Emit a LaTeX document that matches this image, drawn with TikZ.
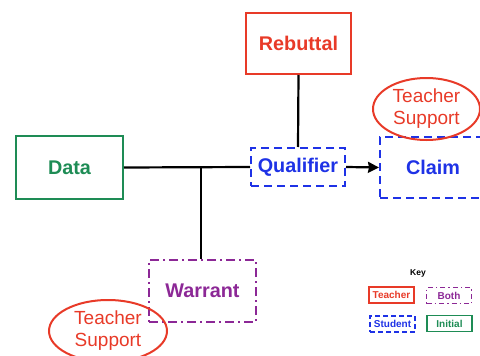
\documentclass[tikz,border=0pt]{standalone}
\usepackage{fontspec}
\setmainfont{Liberation Sans}
\usetikzlibrary{shapes.geometric, arrows, arrows.meta}
\definecolor{tred}{RGB}{232,58,40}
\definecolor{sblue}{RGB}{30,50,230}
\definecolor{bpurple}{RGB}{140,40,150}
\definecolor{igreen}{RGB}{30,140,85}
\tikzstyle{teacher} = [
    rectangle,
    line width=2pt,
    draw=tred,
    text=tred,
    font=\bfseries\fontsize{19.8}{22}\selectfont
]
\tikzstyle{student} = [
    rectangle,
    line width=2pt,
    dash pattern=on 8pt off 5pt,
    draw=sblue,
    text=sblue,
    font=\bfseries\fontsize{19.8}{22}\selectfont
]
\tikzstyle{both} = [
    rectangle,
    line width=2pt,
    dash pattern=on 9pt off 4pt on 2pt off 4pt,
    draw=bpurple,
    text=bpurple,
    font=\bfseries\fontsize{19.8}{22}\selectfont
]
\tikzstyle{initial} = [
    rectangle,
    line width=2pt,
    draw=igreen,
    text=igreen,
    font=\bfseries\fontsize{19.8}{22}\selectfont
]
\tikzstyle{support} = [
    ellipse,
    line width=2pt,
    draw=tred,
    text=tred,
    align=center,
    inner sep=0pt,
    font=\fontsize{19}{22}\selectfont
]
\tikzstyle{keybox} = [
    minimum width=45pt,
    minimum height=16pt,
    inner sep=1pt,
    line width=1.4pt,
    font=\bfseries\fontsize{10}{12}\selectfont
]
\tikzstyle{link} = [line width=2.2pt, black]
\tikzstyle{arrow} = [line width=2.2pt,-{Stealth[length=11pt,width=11pt,inset=1pt]}]

\begin{document}
\begin{tikzpicture}[x=1pt, y=-1pt]
\useasboundingbox (0,0) rectangle (480,356);

\node (rebuttal) [teacher, minimum width=105pt, minimum height=61pt] at (298.5,43.5) {Rebuttal};

\node (data) [initial, minimum width=107pt, minimum height=63pt] at (69.5,167.5) {Data};

\node (qualifier) [student, minimum width=94pt, minimum height=38pt] at (298,167) {Qualifier};

\node (claim) [student, minimum width=106pt, minimum height=61pt] at (433,167.5) {Claim};

\node (warrant) [both, minimum width=107pt, minimum height=62pt] at (202.5,291) {Warrant};

\node (support1) [support, minimum width=107pt, minimum height=62pt] at (426.5,109) {Teacher\\Support};

\node (support2) [support, minimum width=118pt, minimum height=62pt] at (108,331) {Teacher\\Support};

\coordinate (join) at (201,167.5);

\draw [link] (data.east) -- (qualifier.west);
\draw [link] (join) -- (warrant.north -| join);
\draw [link] (rebuttal.south) -- (qualifier.north);
\draw [arrow] (qualifier.east) -- (claim.west);

% key
\node (key) [font=\bfseries\fontsize{8.5}{10}\selectfont] at (418,273) {Key};
\node (kteacher) [teacher, keybox] at (391.5,295) {Teacher};
\node (kboth) [both, keybox, dash pattern=on 5pt off 3pt on 1.5pt off 3pt] at (449,295.5) {Both};
\node (kstudent) [student, keybox, dash pattern=on 5pt off 3pt] at (392.5,324) {Student};
\node (kinitial) [initial, keybox] at (449.5,323.5) {Initial};

\end{tikzpicture}
\end{document}
